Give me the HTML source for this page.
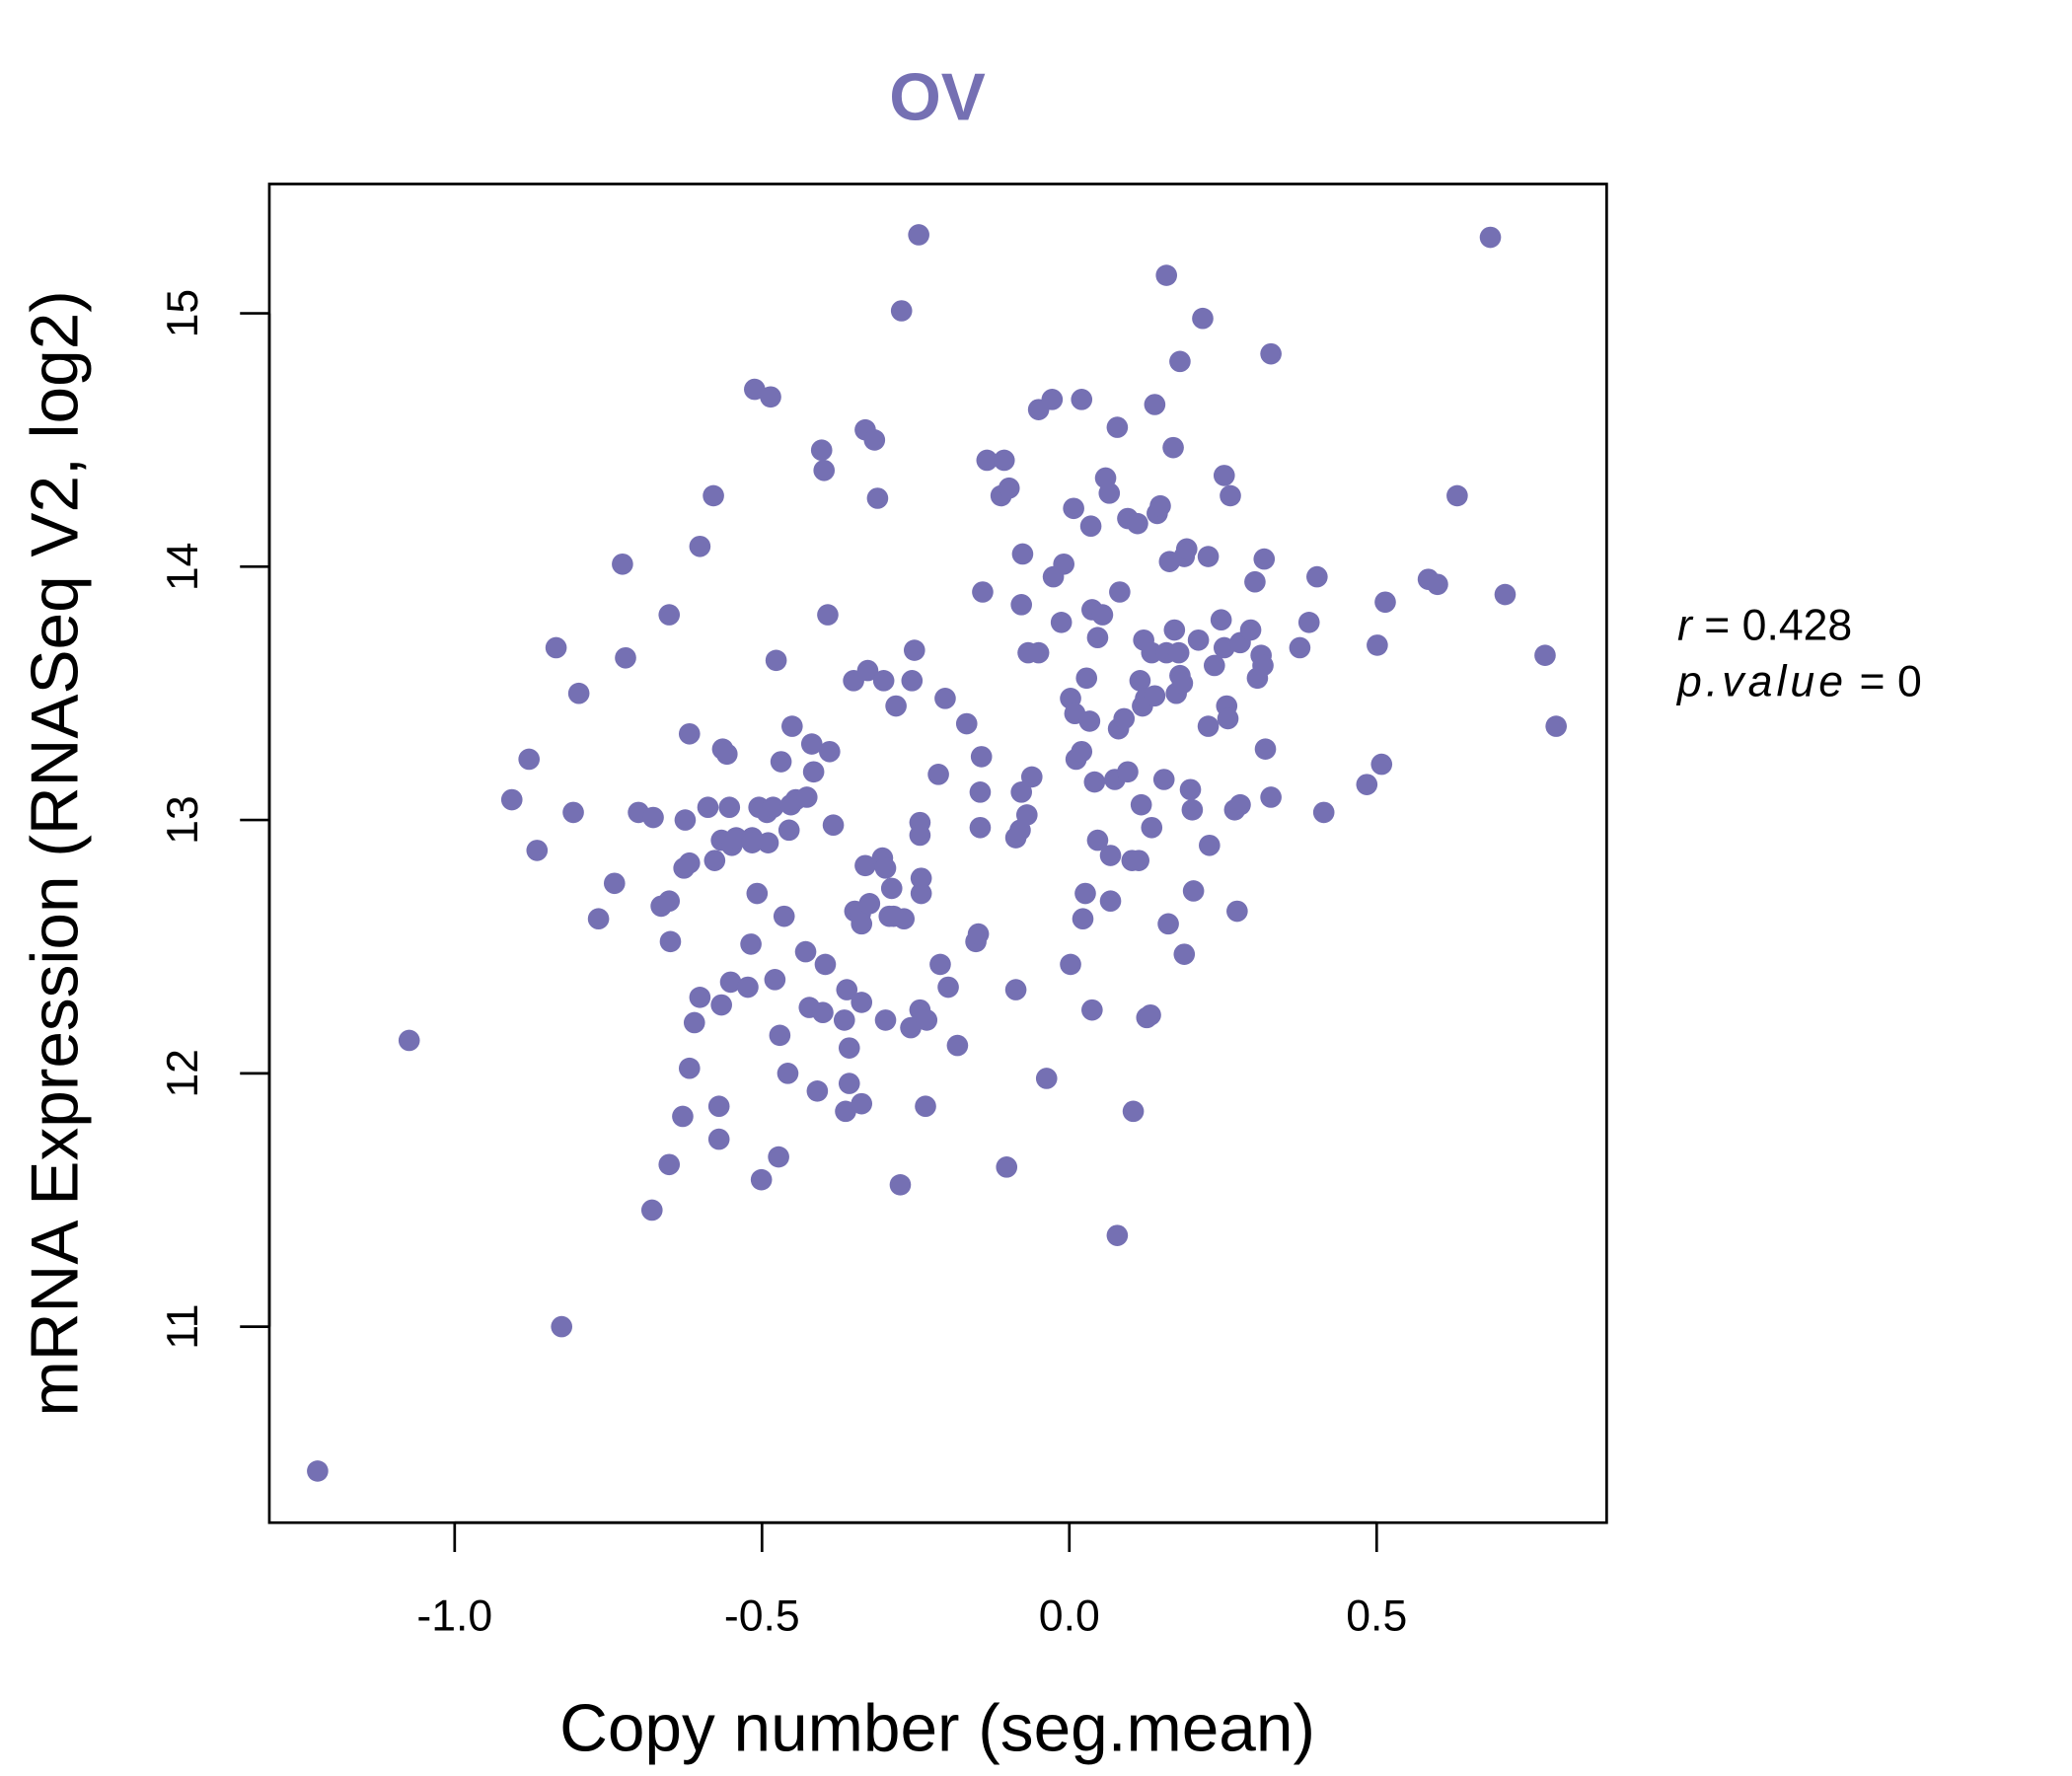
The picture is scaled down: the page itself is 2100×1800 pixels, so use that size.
<!DOCTYPE html>
<html><head><meta charset="utf-8"><style>html,body{margin:0;padding:0;background:#fff}svg{display:block}text{font-family:"Liberation Sans",sans-serif}</style></head>
<body>
<svg id="chart" width="2100" height="1800" viewBox="0 0 1554 1332" xmlns="http://www.w3.org/2000/svg">
<rect width="1554" height="1332" fill="#fff"/>
<text x="703" y="90" text-anchor="middle" font-size="50" font-weight="bold" fill="#7570b3">OV</text>
<rect x="202" y="138" width="1003" height="1004" fill="none" stroke="#000" stroke-width="2"/>
<g id="xaxis"></g>
<g id="yaxis"></g>
<g id="points"></g>
<text x="703" y="1313" text-anchor="middle" font-size="50">Copy number (seg.mean)</text>
<text transform="translate(58,640) rotate(-90)" text-anchor="middle" font-size="50">mRNA Expression (RNASeq V2, log2)</text>
<text x="1258" y="480" font-size="33"><tspan font-style="italic">r</tspan> = 0.428</text>
<text x="1258" y="522" font-size="33"><tspan font-style="italic" letter-spacing="3">p.value</tspan> = 0</text>
</svg>
<script>
const xTicks = [-1.0, -0.5, 0.0, 0.5];
const xTickLabels = ["-1.0", "-0.5", "0.0", "0.5"];
const yTicks = [11, 12, 13, 14, 15];
const yTickLabels = ["11", "12", "13", "14", "15"];
const xValues = [-1.223,-1.074,-0.826,-0.907,-0.879,-0.866,-0.835,-0.807,-0.798,-0.766,-0.740,-0.727,-0.722,-0.701,-0.677,-0.679,-0.664,-0.651,-0.651,-0.649,-0.651,-0.629,-0.625,-0.627,-0.618,-0.618,-0.618,-0.610,-0.601,-0.601,-0.588,-0.579,-0.577,-0.570,-0.570,-0.566,-0.566,-0.564,-0.557,-0.553,-0.551,-0.549,-0.542,-0.523,-0.518,-0.516,-0.516,-0.512,-0.508,-0.505,-0.501,-0.492,-0.490,-0.486,-0.482,-0.479,-0.477,-0.473,-0.471,-0.469,-0.464,-0.458,-0.456,-0.453,-0.451,-0.445,-0.429,-0.427,-0.423,-0.419,-0.416,-0.410,-0.403,-0.401,-0.399,-0.397,-0.393,-0.390,-0.384,-0.366,-0.364,-0.362,-0.358,-0.358,-0.351,-0.349,-0.340,-0.338,-0.338,-0.338,-0.332,-0.332,-0.328,-0.325,-0.317,-0.312,-0.304,-0.302,-0.299,-0.299,-0.293,-0.289,-0.286,-0.282,-0.275,-0.273,-0.269,-0.258,-0.256,-0.252,-0.245,-0.243,-0.243,-0.241,-0.241,-0.243,-0.234,-0.232,-0.213,-0.210,-0.202,-0.197,-0.182,-0.167,-0.152,-0.148,-0.145,-0.145,-0.143,-0.141,-0.134,-0.106,-0.111,-0.098,-0.102,-0.087,-0.087,-0.080,-0.078,-0.078,-0.076,-0.069,-0.067,-0.061,-0.050,-0.050,-0.037,-0.028,-0.026,-0.013,-0.009,0.002,0.002,0.007,0.009,0.011,0.020,0.020,0.022,0.026,0.028,0.033,0.035,0.037,0.037,0.041,0.046,0.046,0.054,0.059,0.065,0.067,0.067,0.074,0.078,0.078,0.080,0.082,0.089,0.095,0.095,0.102,0.104,0.111,0.113,0.115,0.117,0.119,0.121,0.124,0.126,0.132,0.134,0.134,0.139,0.139,0.143,0.148,0.154,0.158,0.158,0.161,0.163,0.169,0.171,0.174,0.178,0.180,0.180,0.184,0.187,0.187,0.191,0.197,0.200,0.202,0.210,0.217,0.226,0.226,0.228,0.236,0.247,0.252,0.252,0.256,0.258,0.262,0.269,0.273,0.278,0.278,0.295,0.302,0.306,0.312,0.315,0.317,0.319,0.328,0.328,0.375,0.390,0.403,0.414,0.484,0.501,0.508,0.514,0.584,0.599,0.631,0.685,0.709,0.774,0.792];
const yValues = [10.43,12.13,11.0,13.08,13.24,12.88,13.68,13.03,13.5,12.61,12.75,14.01,13.64,13.03,13.01,11.46,12.66,12.68,13.81,12.52,11.64,11.83,13.0,12.81,12.83,12.02,13.34,12.2,12.3,14.08,13.05,14.28,12.84,11.87,11.74,12.27,12.92,13.28,13.26,13.05,12.36,12.9,12.93,12.34,12.51,12.93,12.91,14.7,12.71,13.05,11.58,13.03,12.91,14.67,13.05,12.37,13.63,11.67,12.15,13.23,12.62,12.0,12.96,13.06,13.37,13.08,12.48,13.09,12.26,13.3,13.19,11.93,14.46,12.24,14.38,12.43,13.81,13.27,12.98,12.21,11.85,12.33,11.96,12.1,13.55,12.64,12.63,12.28,11.88,12.59,14.54,12.82,13.59,12.67,14.5,14.27,12.85,13.55,12.21,12.81,12.62,12.73,12.62,13.45,11.56,15.01,12.61,12.18,13.55,13.67,15.31,12.99,12.94,12.71,12.77,12.25,11.87,12.21,13.18,12.43,13.48,12.34,12.11,13.38,12.52,12.55,12.97,13.11,13.25,13.9,14.42,14.42,14.28,14.31,11.63,12.33,12.93,12.96,13.11,13.85,14.05,13.02,13.66,13.17,13.66,14.62,11.98,14.66,13.96,13.78,14.01,12.43,13.48,14.23,13.42,13.24,13.27,14.66,12.61,12.71,13.56,13.39,14.16,12.25,13.83,13.15,13.72,12.92,13.81,14.35,14.29,12.68,12.86,13.16,11.36,14.55,13.36,13.9,13.4,13.19,14.19,12.84,11.85,14.17,12.84,13.55,13.06,13.45,13.71,13.48,12.22,12.23,12.97,13.66,13.49,14.64,14.21,14.24,13.16,15.15,13.66,12.59,14.02,14.47,13.75,13.5,13.66,13.57,14.81,13.54,12.47,14.04,14.07,13.12,13.04,12.72,13.71,14.98,13.37,14.04,12.9,13.61,13.79,14.36,13.68,13.45,13.4,14.28,13.04,12.64,13.06,13.7,13.75,13.94,13.56,13.65,13.61,14.03,13.28,13.09,14.84,13.68,13.78,13.96,13.03,13.14,13.69,13.22,13.86,13.95,13.93,14.28,15.3,13.89,13.65,13.37];

const NS = "http://www.w3.org/2000/svg";
function xScale(v){ return 802 + v * 461; }
function yScale(v){ return 235 + (15 - v) * 190; }

const xa = document.getElementById('xaxis');
const xl = document.createElementNS(NS,'line');


xl.setAttribute('x1', xScale(xTicks[0])); xl.setAttribute('x2', xScale(xTicks[xTicks.length-1]));
xl.setAttribute('y1',1142); xl.setAttribute('y2',1142);
xl.setAttribute('stroke','#000'); xl.setAttribute('stroke-width','2');
xa.appendChild(xl);
xTicks.forEach((t,i)=>{
  const ln = document.createElementNS(NS,'line');
  
  
  ln.setAttribute('x1',xScale(t)); ln.setAttribute('x2',xScale(t));
  ln.setAttribute('y1',1142); ln.setAttribute('y2',1164);
  ln.setAttribute('stroke','#000'); ln.setAttribute('stroke-width','2');
  xa.appendChild(ln);
  const tx = document.createElementNS(NS,'text');
  
  
  tx.setAttribute('x',xScale(t)); tx.setAttribute('y',1223);
  tx.setAttribute('text-anchor','middle'); tx.setAttribute('font-size','33');
  tx.textContent = xTickLabels[i];
  xa.appendChild(tx);
});
const ya = document.getElementById('yaxis');
const yl = document.createElementNS(NS,'line');


yl.setAttribute('x1',202); yl.setAttribute('x2',202);
yl.setAttribute('y1', yScale(yTicks[0])); yl.setAttribute('y2', yScale(yTicks[yTicks.length-1]));
yl.setAttribute('stroke','#000'); yl.setAttribute('stroke-width','2');
ya.appendChild(yl);
yTicks.forEach((t,i)=>{
  const ln = document.createElementNS(NS,'line');
  
  
  ln.setAttribute('x1',180); ln.setAttribute('x2',202);
  ln.setAttribute('y1',yScale(t)); ln.setAttribute('y2',yScale(t));
  ln.setAttribute('stroke','#000'); ln.setAttribute('stroke-width','2');
  ya.appendChild(ln);
  const tx = document.createElementNS(NS,'text');
  
  
  tx.setAttribute('transform','translate(148,'+yScale(t)+') rotate(-90)');
  tx.setAttribute('text-anchor','middle'); tx.setAttribute('font-size','33');
  tx.textContent = yTickLabels[i];
  ya.appendChild(tx);
});
const pg = document.getElementById('points');
xValues.forEach((x,i)=>{
  const c = document.createElementNS(NS,'circle');
  
  
  c.setAttribute('cx',xScale(x)); c.setAttribute('cy',yScale(yValues[i]));
  c.setAttribute('r',8); c.setAttribute('fill','#7570b3');
  pg.appendChild(c);
});
</script>
</body></html>
